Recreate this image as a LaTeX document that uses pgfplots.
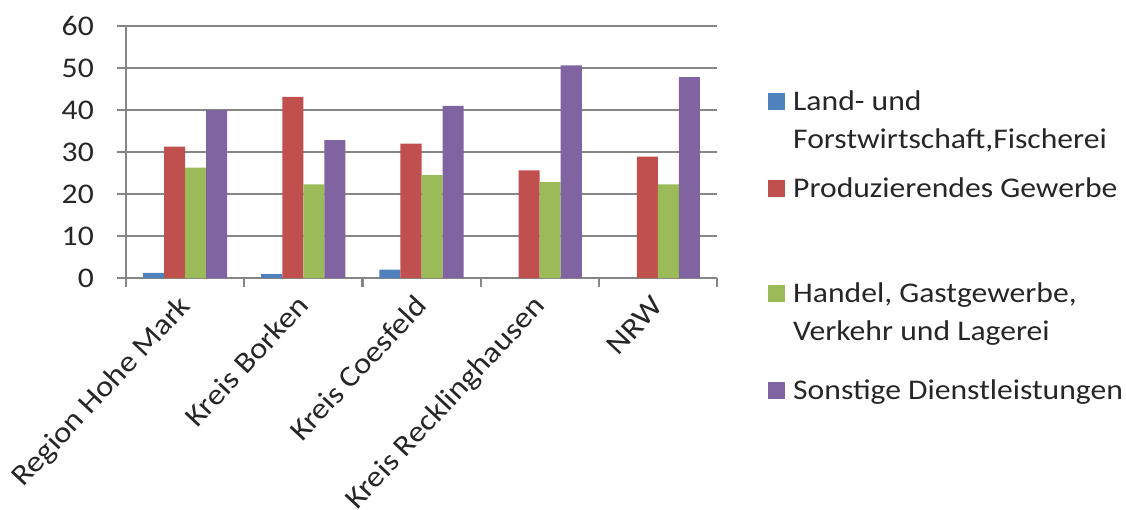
\documentclass[border=0pt]{standalone}
\usepackage{fontspec}
\setmainfont{Carlito}[FakeStretch=1.11]
\usepackage{pgfplots}
\pgfplotsset{compat=1.18}

\definecolor{sBlue}{RGB}{79,129,189}
\definecolor{sRed}{RGB}{192,80,77}
\definecolor{sGreen}{RGB}{155,187,89}
\definecolor{sPurple}{RGB}{128,100,162}
\definecolor{gridgray}{RGB}{134,134,134}
\definecolor{labeltext}{RGB}{38,38,38}

\newcommand{\chartfont}{\fontsize{28.5bp}{38bp}\selectfont}
\newcommand{\catfont}{\fontsize{29.5bp}{38bp}\selectfont}

\begin{document}
\begin{tikzpicture}
\begin{axis}[
  at={(0,0)}, anchor=south west,
  scale only axis, width=591bp, height=252bp,
  ybar, bar width=0.178,
  xmin=-0.5, xmax=4.5, ymin=0, ymax=60,
  ytick={0,10,...,60},
  xtick={-0.5,0.5,...,4.5},
  x tick label as interval,
  xticklabels={Region Hohe Mark, Kreis Borken, Kreis Coesfeld, Kreis Recklinghausen, NRW},
  axis x line*=bottom, axis y line*=left,
  axis line style={draw=gridgray, line width=2.2bp},
  ymajorgrids, grid style={draw=gridgray, line width=1.8bp},
  tick align=outside, major tick length=9bp,
  tick style={draw=gridgray, line width=2.2bp},
  tick label style={font=\chartfont, text=labeltext},
  /pgf/number format/assume math mode=true,
  yticklabel style={inner sep=0pt, xshift=-23bp},
  xticklabel style={font=\catfont, inner sep=0pt, xshift=-7bp, yshift=-7bp, rotate=47,
                    anchor=north east, text height=19bp},
  legend style={at={(axis description cs:1.0863,0.746)}, anchor=north west,
                draw=none, fill=none, inner sep=0pt, row sep=0pt, column sep=8bp,
                cells={anchor=base west},
                nodes={inner sep=0pt, text depth=, text height=},
                font=\chartfont, text=labeltext},
  legend image code/.code={\fill[#1,draw=none] (0bp,0bp) rectangle (17bp,17bp);},
]
% Land- und Forstwirtschaft, Fischerei
\addplot[fill=sBlue, draw=none, bar shift=-0.267] coordinates {
  (0,1.2) (1,0.9) (2,2.0) (3,0) (4,0)};
\addlegendentry{\smash{\begin{tabular}[t]{@{}l@{}}Land- und\\Forstwirtschaft,Fischerei\end{tabular}}\rule[-67bp]{0pt}{87bp}}
% Produzierendes Gewerbe
\addplot[fill=sRed, draw=none, bar shift=-0.089] coordinates {
  (0,31.3) (1,43.1) (2,32.0) (3,25.6) (4,28.9)};
\addlegendentry{\smash{Produzierendes Gewerbe}\rule[-85bp]{0pt}{105bp}}
% Handel, Gastgewerbe, Verkehr und Lagerei
\addplot[fill=sGreen, draw=none, bar shift=0.089] coordinates {
  (0,26.3) (1,22.3) (2,24.5) (3,22.8) (4,22.3)};
\addlegendentry{\smash{\begin{tabular}[t]{@{}l@{}}Handel, Gastgewerbe,\\Verkehr und Lagerei\end{tabular}}\rule[-77bp]{0pt}{97bp}}
% Sonstige Dienstleistungen
\addplot[fill=sPurple, draw=none, bar shift=0.267] coordinates {
  (0,40.0) (1,32.8) (2,41.0) (3,50.6) (4,47.8)};
\addlegendentry{\smash{Sonstige Dienstleistungen}\rule[-10bp]{0pt}{30bp}}
\end{axis}
\pgfresetboundingbox
\path (-126bp,-232bp) rectangle (1000bp,278bp);
\end{tikzpicture}
\end{document}
